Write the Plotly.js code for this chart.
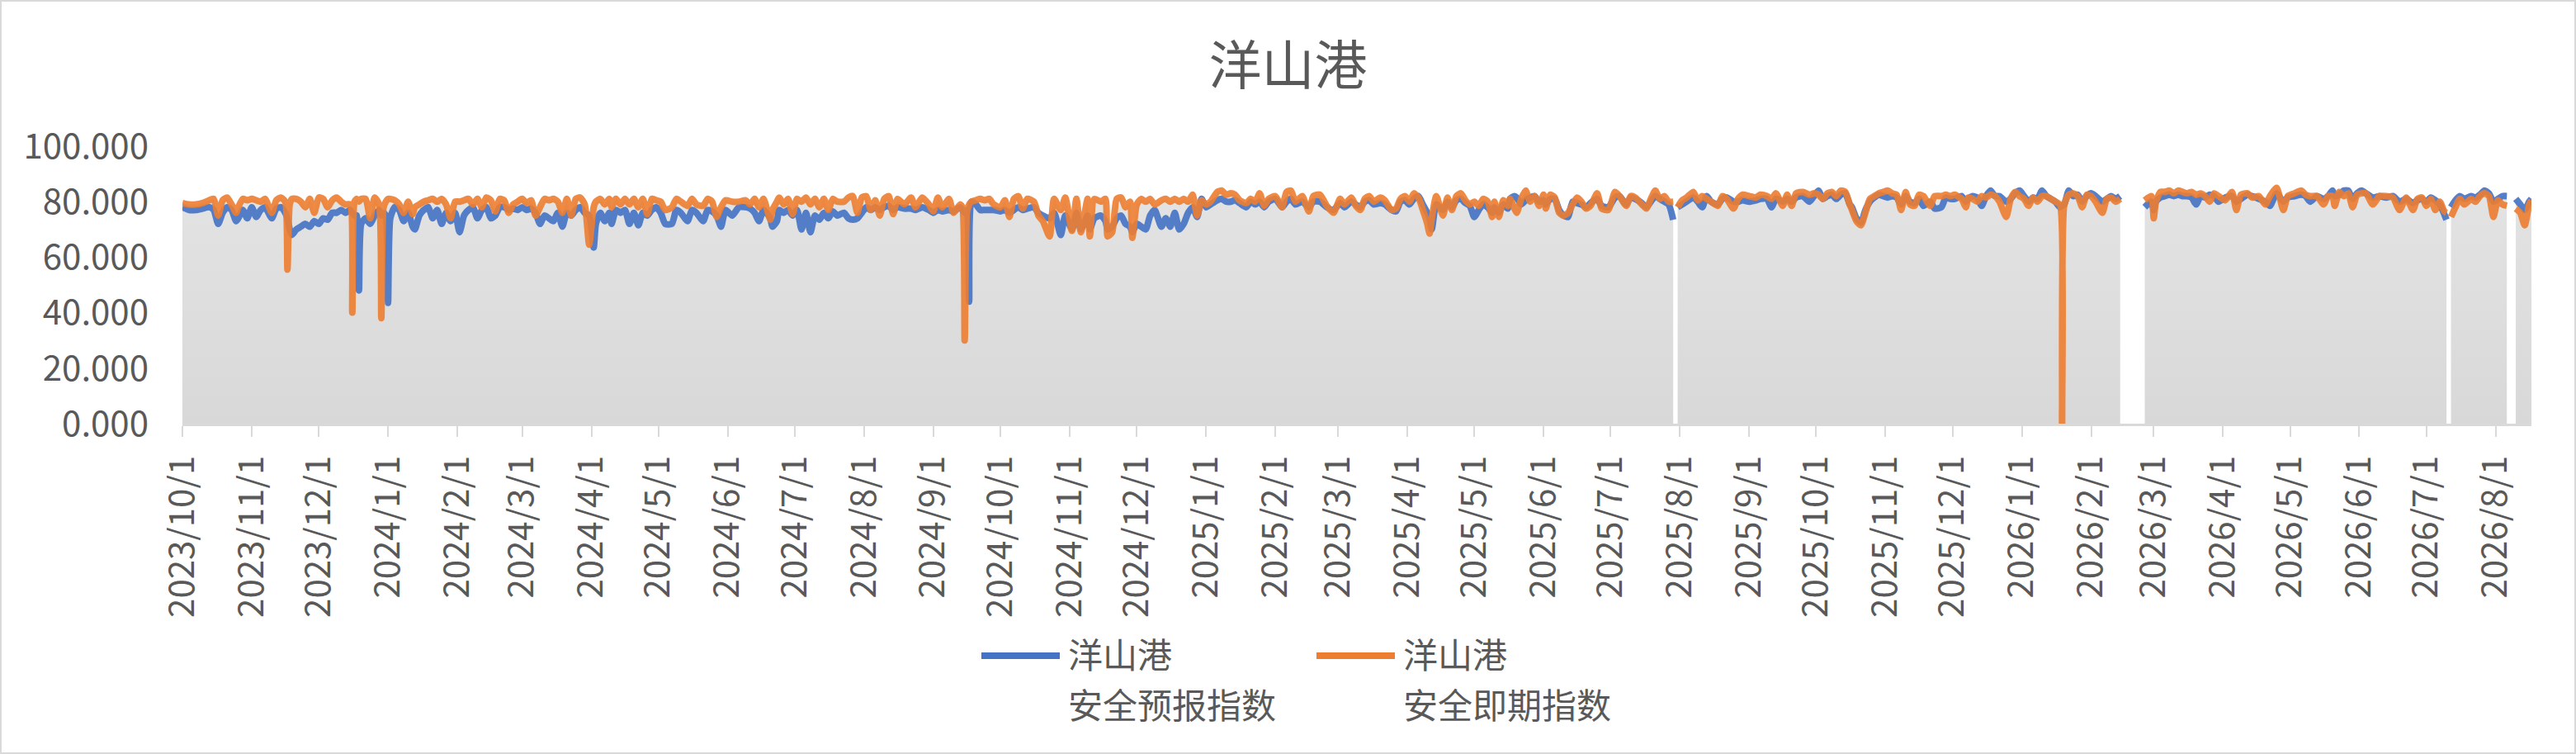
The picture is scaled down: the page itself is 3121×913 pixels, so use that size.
<!DOCTYPE html>
<html>
<head>
<meta charset="utf-8">
<script src="https://cdn.plot.ly/plotly-3.0.1.min.js"></script>
<style>
  html, body { margin: 0; padding: 0; background: #ffffff; }
  #wrap { position: relative; width: 3121px; height: 913px; }
  #chart { width: 3121px; height: 913px; }
  #frame { position: absolute; left: 0; top: 0; width: 3117px; height: 909px; border: 2px solid #d9d9d9; pointer-events: none; }
</style>
</head>
<body>
<div id="wrap"><div id="chart"></div><div id="frame"></div></div>
<script>
// ---- data ----
const dates = [
'2023-10-01','2023-10-04','2023-10-07','2023-10-10','2023-10-13','2023-10-15','2023-10-17','2023-10-19','2023-10-21','2023-10-23',
'2023-10-25','2023-10-26','2023-10-28','2023-10-30','2023-11-01','2023-11-03','2023-11-05','2023-11-07','2023-11-10','2023-11-12',
'2023-11-14','2023-11-16','2023-11-17','2023-11-18','2023-11-19','2023-11-21','2023-11-23','2023-11-25','2023-11-27','2023-11-29',
'2023-12-01','2023-12-03','2023-12-05','2023-12-07','2023-12-09','2023-12-11','2023-12-13','2023-12-15','2023-12-16','2023-12-17',
'2023-12-18','2023-12-19','2023-12-20','2023-12-22','2023-12-24','2023-12-26','2023-12-28','2023-12-29','2023-12-30','2023-12-31',
'2024-01-01','2024-01-02','2024-01-04','2024-01-06','2024-01-08','2024-01-10','2024-01-12','2024-01-13','2024-01-15','2024-01-17',
'2024-01-19','2024-01-21','2024-01-23','2024-01-25','2024-01-27','2024-01-29','2024-01-31','2024-02-02','2024-02-04','2024-02-06',
'2024-02-08','2024-02-10','2024-02-12','2024-02-14','2024-02-16','2024-02-18','2024-02-20','2024-02-22','2024-02-24',
'2024-02-26','2024-02-28','2024-03-01','2024-03-03','2024-03-05','2024-03-07','2024-03-09','2024-03-11','2024-03-13','2024-03-15',
'2024-03-17','2024-03-19','2024-03-21','2024-03-23','2024-03-25','2024-03-27','2024-03-29','2024-03-31','2024-04-02','2024-04-03',
'2024-04-05','2024-04-07','2024-04-09','2024-04-10','2024-04-12','2024-04-14','2024-04-16','2024-04-18','2024-04-20','2024-04-22',
'2024-04-24','2024-04-26','2024-04-28','2024-04-30','2024-05-02','2024-05-04','2024-05-07','2024-05-09','2024-05-11','2024-05-14',
'2024-05-16','2024-05-18','2024-05-21','2024-05-23','2024-05-25','2024-05-27','2024-05-29','2024-05-31','2024-06-03','2024-06-06',
'2024-06-09','2024-06-11','2024-06-13','2024-06-15','2024-06-17','2024-06-20','2024-06-21','2024-06-23','2024-06-24','2024-06-26',
'2024-06-28','2024-06-30','2024-07-02','2024-07-04','2024-07-06','2024-07-08','2024-07-10','2024-07-12','2024-07-14','2024-07-16',
'2024-07-18','2024-07-20','2024-07-23',
'2024-07-25','2024-07-27','2024-07-29','2024-07-31','2024-08-02','2024-08-04','2024-08-06','2024-08-08','2024-08-10','2024-08-12',
'2024-08-14','2024-08-16','2024-08-19','2024-08-22','2024-08-24','2024-08-27','2024-08-30','2024-09-01','2024-09-03','2024-09-05',
'2024-09-08','2024-09-10','2024-09-13','2024-09-14','2024-09-15','2024-09-16','2024-09-17','2024-09-18','2024-09-20','2024-09-22',
'2024-09-24','2024-09-26','2024-09-28','2024-10-01','2024-10-03','2024-10-05','2024-10-07','2024-10-09','2024-10-11','2024-10-13',
'2024-10-16','2024-10-18','2024-10-20','2024-10-23','2024-10-25','2024-10-28','2024-10-30','2024-11-02','2024-11-04','2024-11-06',
'2024-11-09','2024-11-10','2024-11-12','2024-11-15','2024-11-17','2024-11-18','2024-11-20','2024-11-22','2024-11-24','2024-11-26',
'2024-11-28','2024-11-29','2024-12-01','2024-12-03','2024-12-05','2024-12-07','2024-12-09','2024-12-12','2024-12-14','2024-12-16',
'2024-12-18','2024-12-20',
'2024-12-22','2024-12-24','2024-12-26','2024-12-28','2024-12-30','2025-01-01','2025-01-03','2025-01-06','2025-01-08','2025-01-10',
'2025-01-12','2025-01-14','2025-01-16','2025-01-19','2025-01-21','2025-01-23','2025-01-25','2025-01-27','2025-01-29','2025-02-01',
'2025-02-04','2025-02-06','2025-02-08','2025-02-10','2025-02-13','2025-02-16','2025-02-18','2025-02-21','2025-02-24','2025-02-27',
'2025-03-02','2025-03-04','2025-03-07','2025-03-09','2025-03-11','2025-03-13','2025-03-15','2025-03-17','2025-03-20','2025-03-22',
'2025-03-25','2025-03-27','2025-03-29','2025-03-31','2025-04-02','2025-04-04','2025-04-06','2025-04-08','2025-04-10','2025-04-11',
'2025-04-12','2025-04-14','2025-04-17','2025-04-19','2025-04-21','2025-04-23','2025-04-25','2025-04-27','2025-04-29','2025-05-01',
'2025-05-03','2025-05-05','2025-05-07','2025-05-09','2025-05-10','2025-05-12','2025-05-14','2025-05-16','2025-05-17','2025-05-19',
'2025-05-20','2025-05-22','2025-05-24','2025-05-26','2025-05-28','2025-05-30','2025-06-01','2025-06-02','2025-06-04','2025-06-06',
'2025-06-08','2025-06-10','2025-06-12','2025-06-14','2025-06-16','2025-06-18','2025-06-20','2025-06-22','2025-06-25','2025-06-27',
'2025-06-30','2025-07-03','2025-07-05','2025-07-08','2025-07-10','2025-07-12','2025-07-15','2025-07-17','2025-07-19','2025-07-21',
'2025-07-23','2025-07-25','2025-07-27','2025-07-29','2025-07-30','2025-07-31','2025-08-02','2025-08-04','2025-08-07','2025-08-09',
'2025-08-11','2025-08-13','2025-08-15','2025-08-18','2025-08-20','2025-08-22','2025-08-25','2025-08-27','2025-08-29','2025-09-01',
'2025-09-04','2025-09-06','2025-09-09','2025-09-11','2025-09-13','2025-09-16','2025-09-18','2025-09-20','2025-09-22','2025-09-25',
'2025-09-28','2025-09-30','2025-10-02','2025-10-04','2025-10-06','2025-10-08','2025-10-10','2025-10-12','2025-10-14','2025-10-16',
'2025-10-17','2025-10-19','2025-10-21','2025-10-23','2025-10-25','2025-10-27','2025-10-29','2025-10-31','2025-11-02','2025-11-04',
'2025-11-06','2025-11-08','2025-11-10','2025-11-12','2025-11-14','2025-11-16','2025-11-18','2025-11-21','2025-11-23','2025-11-26',
'2025-11-28','2025-11-30','2025-12-02','2025-12-05','2025-12-07','2025-12-08','2025-12-10','2025-12-12','2025-12-14','2025-12-16',
'2025-12-18','2025-12-20','2025-12-22','2025-12-25','2025-12-27','2025-12-29','2025-12-31','2026-01-02','2026-01-04','2026-01-06',
'2026-01-08','2026-01-10','2026-01-12','2026-01-14','2026-01-16','2026-01-18','2026-01-19','2026-01-20','2026-01-22','2026-01-24',
'2026-01-26','2026-01-28','2026-01-30','2026-02-01','2026-02-03','2026-02-06','2026-02-08','2026-02-10','2026-02-12','2026-02-14',
'2026-02-17','2026-02-25','2026-02-28','2026-03-01','2026-03-02','2026-03-04','2026-03-06','2026-03-08','2026-03-10','2026-03-12',
'2026-03-14','2026-03-16','2026-03-18','2026-03-20','2026-03-22','2026-03-24','2026-03-26','2026-03-28','2026-03-30','2026-04-02',
'2026-04-05','2026-04-07','2026-04-09','2026-04-12','2026-04-14','2026-04-17','2026-04-20','2026-04-22','2026-04-25','2026-04-28',
'2026-04-30','2026-05-03','2026-05-06','2026-05-08','2026-05-10','2026-05-13','2026-05-16','2026-05-18','2026-05-20','2026-05-21',
'2026-05-23','2026-05-25','2026-05-27','2026-05-29','2026-05-31','2026-06-02','2026-06-04','2026-06-07','2026-06-10','2026-06-13',
'2026-06-16','2026-06-19','2026-06-22','2026-06-25','2026-06-27','2026-06-29','2026-07-01','2026-07-03','2026-07-05','2026-07-07',
'2026-07-09','2026-07-10','2026-07-11','2026-07-12','2026-07-14','2026-07-16','2026-07-18','2026-07-21','2026-07-23','2026-07-25',
'2026-07-27','2026-07-29','2026-07-31','2026-08-02','2026-08-04','2026-08-06','2026-08-08','2026-08-10','2026-08-12','2026-08-14',
'2026-08-16','2026-08-17'
];

// 洋山港 安全预报指数 (blue)
const forecastIndex = [
78,77,77,77.5,78,77,72,76,78,77,
73,74,77,74,78,74.5,77,78,74,77.5,
78,76,74,70,68,70,71,72,71,73,
72,74,73.5,76,76,77,76,77,76,75,
75,48,72,74,72,75,77,75,76,75,
43.5,74,78,77,73,76,71,70,75,77,
78,74,77,72,76,73,76,69,75,77,
78,74,77,78,74,75,78,78,77,
77.5,77,78,77,77.5,76,72,75,74,73,
76,71,76,75,77,78,76,75,63.5,72,
76,73,76,72,77,76,77,72,76,71.5,
76,75,77,78,76,72,72,77,76,73,
77,76,73,77,76.5,75,71,77,75,78,
78,77.5,76,73,77,74,71,73,77,76,
77,75,77,70,76,69,75,73.5,76,74,
76.5,75,76,
74,73.5,74,76,78,77,78,77,78,78.5,
77,78,77.5,77.5,77,78,77,76,77,76.5,
77,76.5,78,77,76,77,44,80,79,77,
77,77,77,76.5,77,76,77,78,77,77.5,
78,76,75,74,76,68,75,70,76,70,
75,70,74,75,73,70,71,74,75,72,
71,69,72,71,70,75,77,71,74,71,
76,70,
72,76,78,74.5,81,78,79,80.5,81,80,
80,80.5,79.5,78,80,79,80,78,80,81,
78,80,81,79,80,78,80,80,78,77,
79.5,78,80,79,78,80,80.5,79,79.5,79,
77,76.5,80,80.5,79,81,82,79,76,74,
70,79,77,80,78,80.5,81,79.5,78.5,74.5,
77,79,78,76,78,76,79,77.5,81,82,
81.5,79,80.5,81.5,82,80,80.5,79,81,81,
77,75,74.5,80,79.5,79,78,79.5,81,78.5,
78,81.5,82,79,81.5,81,79.5,78,80,82,
81,80,79,73.5,null,78,79,80,81.5,80,
78,82,80,79,81,81.5,80,80,80.5,80,
80.5,81,81,78,81,80,81,80,81.5,82,
80,82,84,81,82,82.5,81,82.5,83,79,
78,74,72.5,77,80,81.5,82.5,82,81.5,82,
81.5,79,82,80,79.5,81,78.5,80,77.5,78,
81.5,81,81,82,80,81,82,81.5,78.5,82,
84,82,82,80,81,83,84,82,80,81.5,
81,84,82,81,80,78,78.5,79,84,82,
82.5,80,82,83,82,80,81,82,81,82,
null,78,80,77,80,81.5,82,82.5,82,82.5,
82,82,81.5,79,82,81.5,82.5,82,80,81.5,
82,80,81,82.5,82,81,80,78.5,83,80,
81.5,82,82.5,82,80,82,81,82,84,82,
82.5,84,84,81,83,84,83,81.5,82,81.5,
82,80,81,79.5,80.5,81,80,81.5,80.5,79,
75.5,73.5,null,78,80.5,82,81,82,81.5,82.5,
84,83,80,81,82,82,null,81,79,77,
80,81
];

// 洋山港 安全即期指数 (orange)
const immediateIndex = [
79.5,79,79,79.5,80.5,81,75,80.5,81.5,79,
76,78,81,80.5,81,80.5,80,81,76,80.5,
81.5,80,55.5,79,81,81,80,78,81,76,
81.5,81,78,80.5,81.5,80,79,79,40,80,
81,80,81,81,74,81.5,79,38,78,80,
81,81,80.5,79,76,80,75.5,78,79,80,
80.5,81,80,81,79,74,80,80,80.5,81,
79,81,78,81.5,80.5,76.5,81,80.5,76,
79,80,81,79.5,80.5,75,78,81,80.5,81,
80,76,81,75,81,81.5,79,64.5,78,80,
81,79,81,78,81,79,81,79,81,78,
81,75.5,81,80.5,80,77,78,81,80,78.5,
81,79,78.5,81,80,74.5,78,80.5,80,80,
80.5,79,81,78,81,73.5,77,80,81.5,79,
81,75.5,81,80,81.5,79,81,78,81,77,
81,80,80,
81.5,82,76,81.5,82,77,80.5,75,81,82,
75.5,81,79,81.5,78,81.5,79,76.5,81.5,78,
81,76,79,78,30,76,79,80,80.5,81,
80.5,81,79,78,80.5,74.5,81,82,77.5,81,
80,75,73,67.5,81,77,81.5,69.5,81,69,
81,67.5,81,80,81,67.5,69,81,81.5,78,
80,67,79,81,80,81,79,80.5,81,80,
81,80,
81,80,82.5,75,80.5,79,80,83.5,84,82.5,
83,82.5,80.5,79.5,81,80,83,78.5,81,82,
78,83.5,84,80,82,76.5,82,82.5,78.5,76,
81,79,81.5,78.5,77,81,82,80,81.5,80.5,
77,77.5,81,82,80,83,81.5,77,72,68.5,
74,82,75,81.5,77,82,83,80.5,79,80,
78.5,81,80,74.5,80,74.5,80.5,78.5,81,77.5,
76,81,84,80,82,78.5,82.5,77.5,82.5,81.5,
76,75,76,79,81.5,80,77.5,78.5,83,77.5,
77,83.5,82,78.5,82,81.5,79,77.5,81,84,
81,82,80,80,null,78,80.5,81.5,83.5,80.5,
82,81,80,78.5,82,81,77.5,81,82.5,82,
81.5,82.5,82,81,83,78.5,82.5,78.5,83,83.5,
82.5,83,82.5,81,83,83.5,82,84,83.5,79,
77,73,71.5,76,81,82,83,83.5,84,83,
82.5,77,83.5,79,78.5,82.5,82,78.5,82,82,
82.5,82,82.5,81,78,81.5,81,80,82,81.5,
82.5,82,80,74.5,81,83.5,82,81,78.5,81.5,
80,82,82,81,80,79,0,79,82.5,83,
82,78,82.5,82,80,76,81,81.5,80,81,
null,80.5,82,74,80,83.5,83.5,84,83,84,
83.5,83,83.5,82.5,83,82,80,83,82,80.5,
83.5,77,82.5,83,81.5,82,79,82,85,77,
82,83,84,82.5,82,82,79,82,82,78.5,
83.5,82,83,78,82.5,83,83,79,82,82,
81.5,77,81.5,77,81,81.5,78.5,81,77,80,
76.5,76,null,74.5,78,81,79,81,80,82,
83,82,74.5,80.5,79,78.5,null,77.5,76,71.5,
79,80.5
];

const tickDates = [
'2023-10-01','2023-11-01','2023-12-01','2024-01-01','2024-02-01','2024-03-01','2024-04-01','2024-05-01','2024-06-01','2024-07-01',
'2024-08-01','2024-09-01','2024-10-01','2024-11-01','2024-12-01','2025-01-01','2025-02-01','2025-03-01','2025-04-01','2025-05-01',
'2025-06-01','2025-07-01','2025-08-01','2025-09-01','2025-10-01','2025-11-01','2025-12-01','2026-01-01','2026-02-01','2026-03-01',
'2026-04-01','2026-05-01','2026-06-01','2026-07-01','2026-08-01'
];
const tickLabels = [
'2023/10/1','2023/11/1','2023/12/1','2024/1/1','2024/2/1','2024/3/1','2024/4/1','2024/5/1','2024/6/1','2024/7/1',
'2024/8/1','2024/9/1','2024/10/1','2024/11/1','2024/12/1','2025/1/1','2025/2/1','2025/3/1','2025/4/1','2025/5/1',
'2025/6/1','2025/7/1','2025/8/1','2025/9/1','2025/10/1','2025/11/1','2025/12/1','2026/1/1','2026/2/1','2026/3/1',
'2026/4/1','2026/5/1','2026/6/1','2026/7/1','2026/8/1'
];
const yTicks = [0, 20, 40, 60, 80, 100];
const portName = '洋山港';
const seriesNames = ['安全预报指数', '安全即期指数'];
const seriesColors = ['#4472C4', '#ED7D31'];
const chartTitle = '洋山港';

// ---- layout geometry (pixels of the 3121x913 canvas) ----
const W = 3121, H = 913;
const M = { l: 221, r: 54, t: 177, b: 400 };
const plotW = W - M.l - M.r, plotH = H - M.t - M.b;
const px2paperX = px => (px - M.l) / plotW;
const px2paperY = py => (H - M.b - py) / plotH;

// grey area behind the lines: upper envelope of the two series,
// drawn as one filled trace per run of days that have data
const areaTraces = [];
let segX = [], segY = [];
function flushSeg() {
  if (segX.length) {
    areaTraces.push({
      type: 'scatter', x: segX, y: segY, mode: 'none',
      fill: 'tozeroy', fillcolor: '#dedede',
      fillgradient: { type: 'vertical', start: 0, stop: 85,
        colorscale: [[0, '#d8d8d8'], [1, '#e3e3e3']] },
      showlegend: false, hoverinfo: 'skip'
    });
  }
  segX = []; segY = [];
}
dates.forEach((d, i) => {
  const b = forecastIndex[i], o = immediateIndex[i];
  if (b === null || o === null) { flushSeg(); return; }
  segX.push(d); segY.push(Math.max(b, o));
});
flushSeg();

const FONT = "'Noto Sans CJK SC', 'Noto Sans', sans-serif";
const TXT = '#595959';

const lineTraces = [forecastIndex, immediateIndex].map((vals, k) => ({
  type: 'scatter', mode: 'lines', name: portName + ' ' + seriesNames[k],
  x: dates, y: vals, connectgaps: false,
  line: { color: seriesColors[k], width: 8, shape: 'spline', smoothing: 0.6 },
  opacity: 0.9, showlegend: false
}));

// legend drawn as shapes + text lines (two-line entries as in the reference)
const legendItems = [
  { sx0: 1189, sx1: 1284, tx: 1292 },
  { sx0: 1595, sx1: 1690, tx: 1698 }
];
const legendLineY = 794, legendText1Y = 790, legendText2Y = 851;
const shapes = [], annotations = [];
legendItems.forEach((it, k) => {
  shapes.push({
    type: 'line', xref: 'paper', yref: 'paper',
    x0: px2paperX(it.sx0), x1: px2paperX(it.sx1),
    y0: px2paperY(legendLineY), y1: px2paperY(legendLineY),
    line: { color: seriesColors[k], width: 8 }
  });
  annotations.push({
    xref: 'paper', yref: 'paper', x: px2paperX(it.tx), y: px2paperY(legendText1Y),
    xanchor: 'left', yanchor: 'middle', showarrow: false, text: portName,
    font: { family: FONT, size: 42, color: TXT }
  });
  annotations.push({
    xref: 'paper', yref: 'paper', x: px2paperX(it.tx), y: px2paperY(legendText2Y),
    xanchor: 'left', yanchor: 'middle', showarrow: false, text: seriesNames[k],
    font: { family: FONT, size: 42, color: TXT }
  });
});

const layout = {
  width: W, height: H,
  paper_bgcolor: '#ffffff', plot_bgcolor: '#ffffff',
  font: { family: FONT, color: TXT, size: 42 },
  margin: { l: M.l, r: M.r, t: M.t, b: M.b, pad: 0 },
  title: {
    text: chartTitle,
    font: { family: FONT, size: 64, color: TXT },
    xref: 'container', x: 0.5, xanchor: 'center',
    yref: 'container', y: 1 - 80 / H, yanchor: 'middle'
  },
  xaxis: {
    type: 'date',
    range: ['2023-10-01', '2026-08-17'],
    tickmode: 'array', tickvals: tickDates, ticktext: tickLabels,
    tickangle: -90,
    tickfont: { family: FONT, size: 42, color: TXT },
    ticks: 'outside', ticklen: 13, tickwidth: 2, tickcolor: '#d9d9d9',
    ticklabelstandoff: 6,
    showline: true, linecolor: '#d9d9d9', linewidth: 3,
    showgrid: false, zeroline: false, fixedrange: true
  },
  yaxis: {
    range: [0, 100],
    tickmode: 'array', tickvals: yTicks, tickformat: '.3f',
    tickfont: { family: FONT, size: 42, color: TXT },
    ticks: '', ticklabelstandoff: 40,
    showline: false, showgrid: false, zeroline: false, fixedrange: true
  },
  shapes: shapes,
  annotations: annotations,
  showlegend: false
};

Plotly.newPlot('chart', areaTraces.concat(lineTraces), layout, { staticPlot: true, displayModeBar: false });
</script>
</body>
</html>
